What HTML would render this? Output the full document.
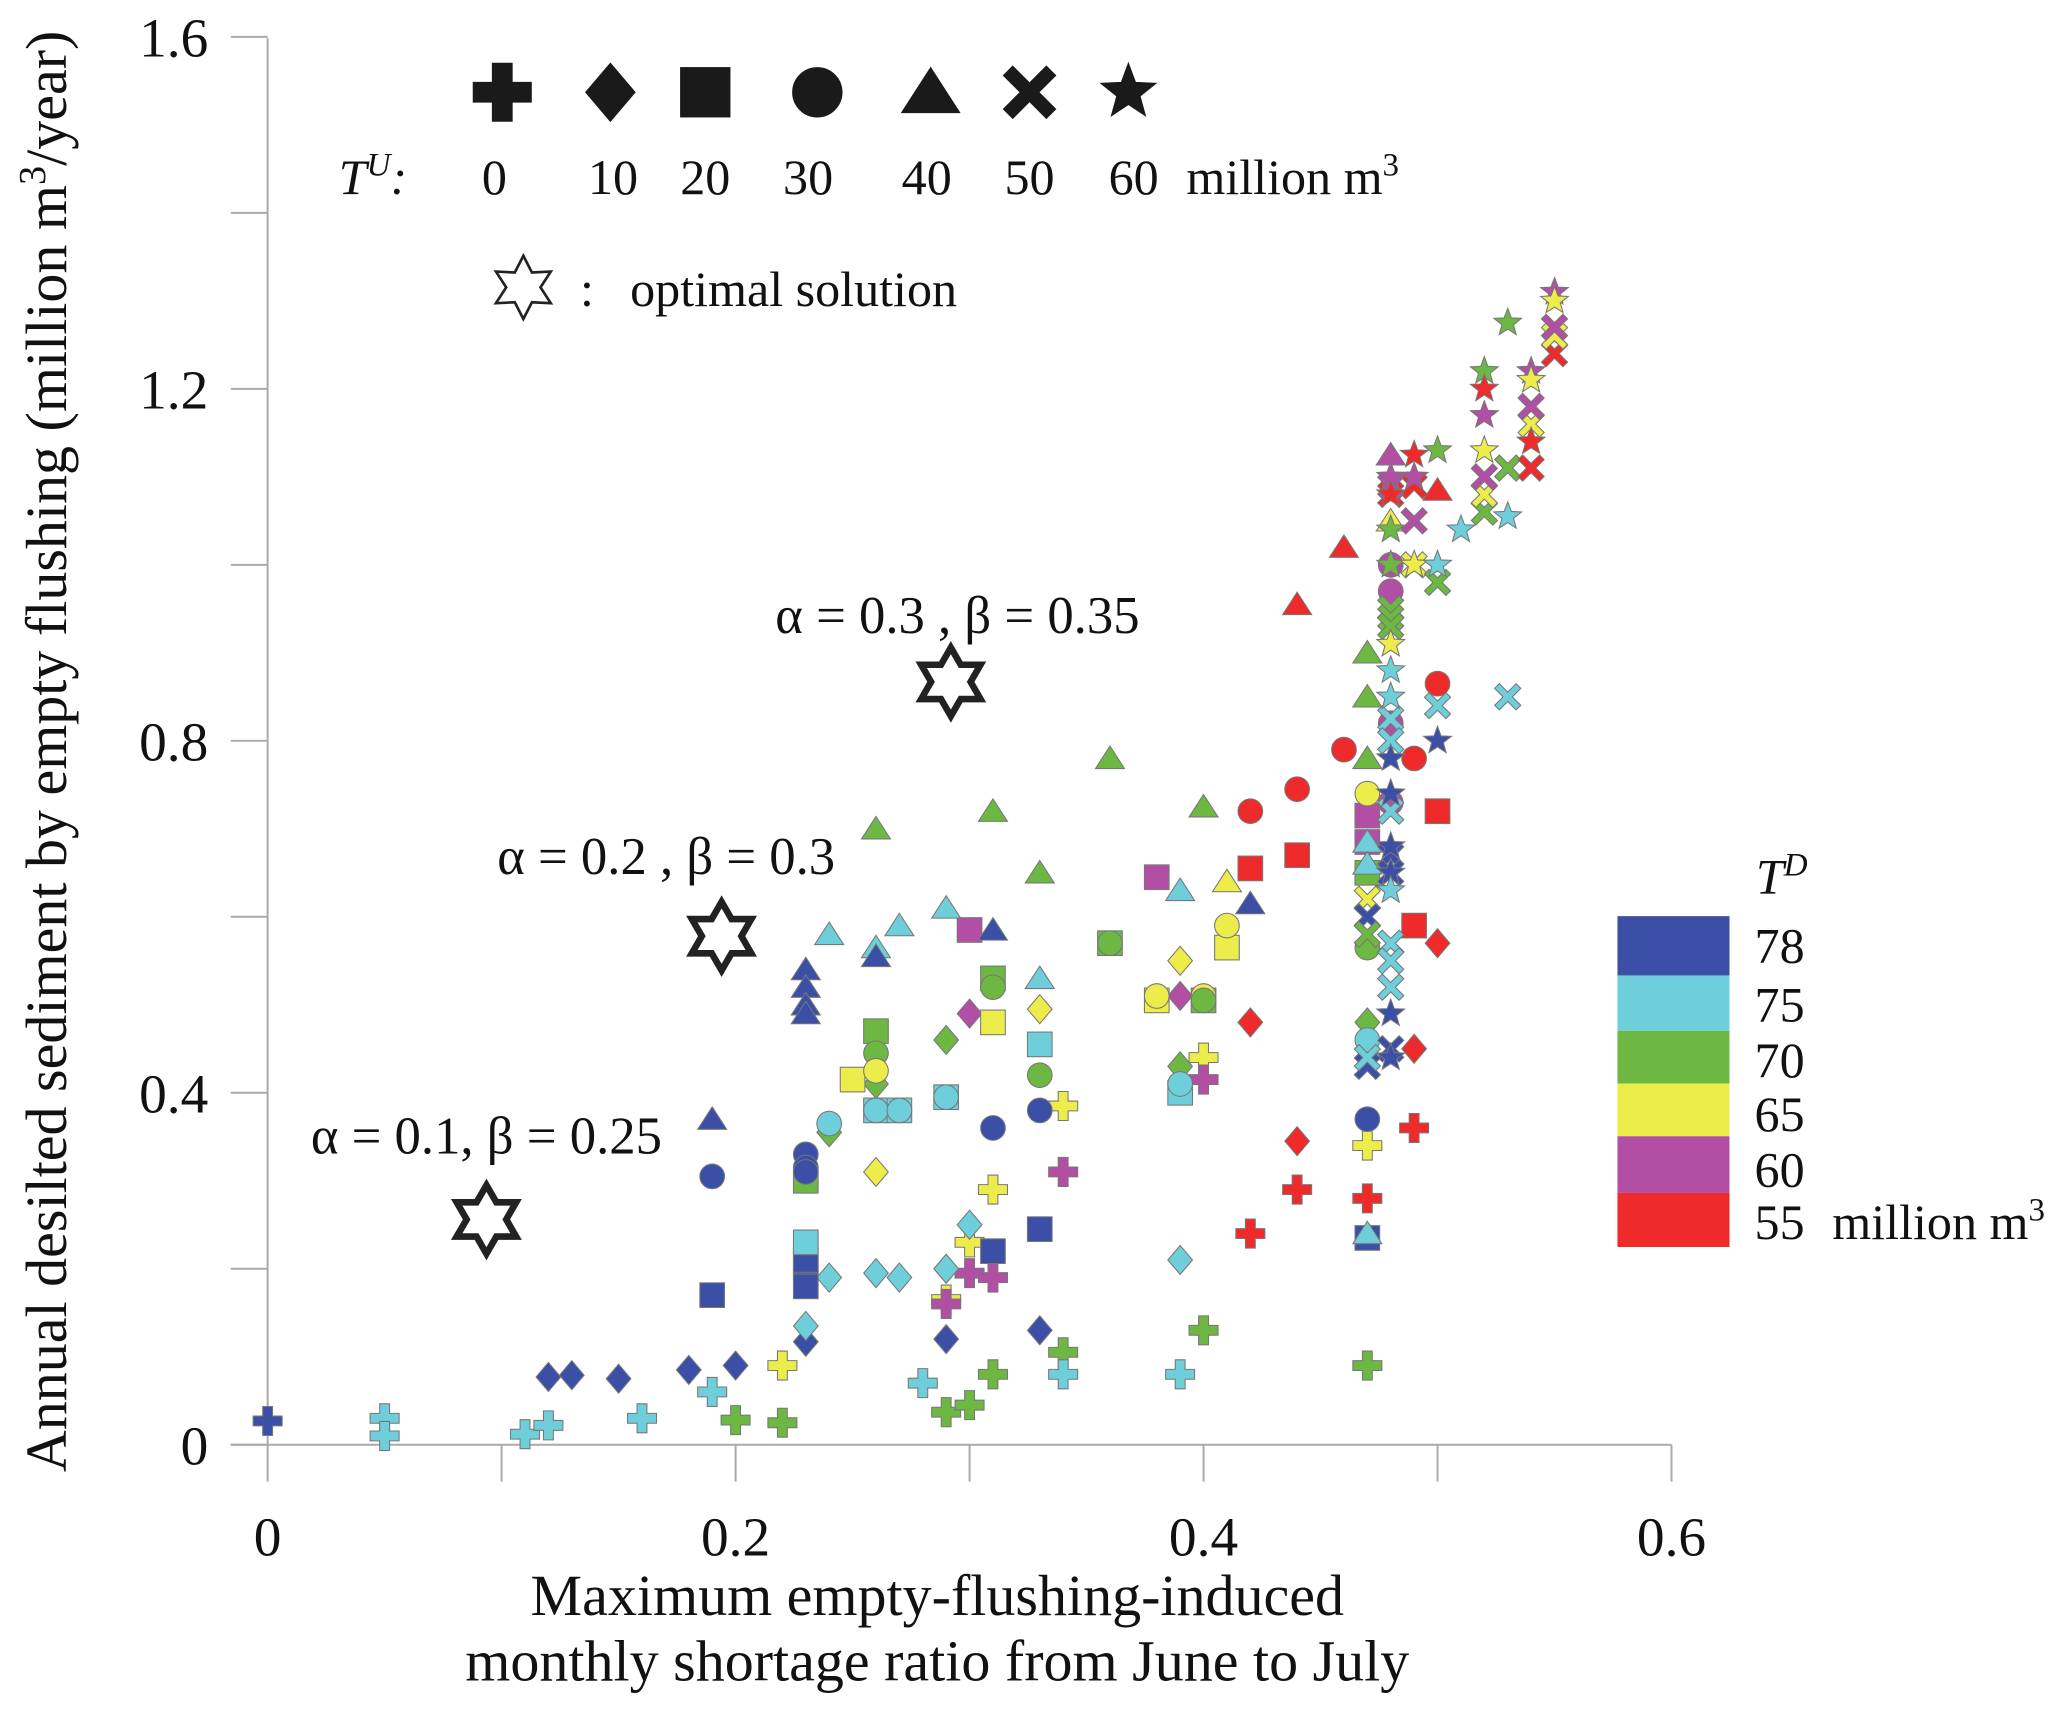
<!DOCTYPE html>
<html><head><meta charset="utf-8"><style>
html,body{margin:0;padding:0;background:#fff;}
svg{display:block;}
text{font-family:"Liberation Serif",serif;fill:#111;}
</style></head><body>
<svg id="chart" width="2067" height="1711" viewBox="0 0 1568 1298" xmlns="http://www.w3.org/2000/svg">
<g id="axes"></g>
<g id="marks"></g>
<g id="opt"></g>
<g id="shapeLegend">
 <text x="257" y="147" font-size="38" font-style="italic">T<tspan dy="-14" font-size="25">U</tspan><tspan dy="14">:</tspan></text>
 <text x="900" y="147" font-size="38">million m<tspan dy="-14" font-size="25">3</tspan></text>
 <text x="440" y="232" font-size="38">:</text>
 <text x="478" y="232" font-size="38">optimal solution</text>
</g>
<g id="colorLegend">
 <text x="1332" y="678" font-size="38" font-style="italic">T<tspan dy="-14" font-size="25">D</tspan></text>
</g>
<text transform="translate(50,570) rotate(-90)" text-anchor="middle" font-size="44">Annual desilted sediment by empty flushing (million m<tspan dy="-16" font-size="29">3</tspan><tspan dy="16">/year)</tspan></text>
<text x="711" y="1225" text-anchor="middle" font-size="44">Maximum empty-flushing-induced</text>
<text x="711" y="1275" text-anchor="middle" font-size="44">monthly shortage ratio from June to July</text>
</svg>
<script>
const xTicks=[0,0.2,0.4,0.6];
const xTickLabels=["0","0.2","0.4","0.6"];
const yTicks=[0,0.4,0.8,1.2,1.6];
const yTickLabels=["0","0.4","0.8","1.2","1.6"];
const tuValues=[0,10,20,30,40,50,60];
const tdValues=[78,75,70,65,60,55];
const tdColors=["#3a4fa5","#6ecfdb","#6db843","#ecec4a","#b24fa4","#ee2a2a"];
// points: x, y, TU (shape), TD (colour)
const ptX=[0,0.05,0.05,0.11,0.12,0.16,0.19,0.2,0.22,0.22,0.28,0.29,0.3,0.31,0.29,0.29,0.3,0.3,0.31,0.31,0.34,0.34,0.34,0.34,0.39,0.4,0.4,0.4,0.42,0.44,0.47,0.47,0.47,0.49,
0.12,0.13,0.15,0.18,0.2,0.23,0.23,0.24,0.26,0.27,0.29,0.29,0.3,0.33,0.39,0.26,0.24,0.26,0.29,0.3,0.33,0.39,0.39,0.39,0.42,0.44,0.47,0.49,0.5,
0.19,0.23,0.23,0.23,0.23,0.23,0.25,0.26,0.26,0.27,0.29,0.3,0.31,0.31,0.31,0.33,0.33,0.36,0.38,0.38,0.39,0.4,0.41,0.42,0.44,0.47,0.47,0.47,0.47,0.49,0.5,
0.19,0.23,0.23,0.23,0.24,0.26,0.26,0.26,0.27,0.29,0.31,0.31,0.33,0.33,0.36,0.38,0.39,0.4,0.4,0.41,0.42,0.44,0.46,0.47,0.47,0.47,0.47,0.49,0.5,0.48,0.48,0.48,0.48,
0.19,0.23,0.23,0.23,0.23,0.24,0.26,0.26,0.26,0.27,0.29,0.31,0.31,0.33,0.33,0.36,0.39,0.4,0.41,0.42,0.46,0.44,0.47,0.47,0.47,0.47,0.47,0.47,0.48,0.48,0.5,
0.48,0.48,0.48,0.48,0.48,0.48,0.48,0.48,0.48,0.48,0.48,0.48,0.47,0.47,0.47,0.47,0.47,0.49,0.49,0.49,0.5,0.5,0.53,0.52,0.52,0.52,0.53,0.54,0.54,0.54,0.55,0.55,0.55,0.48,0.48,
0.48,0.48,0.48,0.48,0.48,0.48,0.48,0.48,0.48,0.48,0.48,0.48,0.48,0.48,0.49,0.49,0.49,0.5,0.5,0.5,0.51,0.52,0.52,0.52,0.52,0.53,0.53,0.54,0.54,0.54,0.55,0.55];
const ptY=[0.027,0.03,0.01,0.012,0.022,0.03,0.06,0.028,0.025,0.09,0.07,0.037,0.045,0.08,0.165,0.16,0.23,0.195,0.19,0.29,0.105,0.08,0.385,0.31,0.08,0.13,0.44,0.415,0.24,0.29,0.28,0.34,0.09,0.36,
0.077,0.079,0.075,0.085,0.09,0.117,0.135,0.19,0.195,0.19,0.12,0.2,0.25,0.13,0.21,0.31,0.355,0.41,0.46,0.49,0.495,0.55,0.51,0.43,0.48,0.345,0.48,0.45,0.57,
0.17,0.2,0.18,0.21,0.23,0.3,0.415,0.47,0.38,0.38,0.395,0.585,0.53,0.48,0.22,0.455,0.245,0.57,0.645,0.505,0.4,0.505,0.565,0.655,0.67,0.235,0.715,0.685,0.65,0.59,0.72,
0.305,0.33,0.315,0.31,0.365,0.445,0.425,0.38,0.38,0.395,0.52,0.36,0.42,0.38,0.57,0.51,0.41,0.51,0.505,0.59,0.72,0.745,0.79,0.74,0.565,0.46,0.37,0.78,0.865,1.0,0.97,0.82,0.73,
0.37,0.54,0.52,0.5,0.49,0.58,0.565,0.555,0.7,0.59,0.61,0.585,0.72,0.53,0.65,0.78,0.63,0.725,0.64,0.615,1.02,0.955,0.9,0.85,0.78,0.685,0.66,0.24,1.125,1.05,1.085,
0.825,0.8,0.72,0.57,0.55,0.52,0.67,0.65,0.45,0.95,0.94,0.93,0.62,0.6,0.58,0.43,0.44,1.05,1.0,1.09,0.84,0.98,0.85,1.06,1.08,1.1,1.11,1.16,1.18,1.11,1.24,1.26,1.27,1.08,1.09,
1.1,1.08,1.0,1.04,0.91,0.88,0.85,0.78,0.74,0.68,0.65,0.63,0.49,0.44,1.125,1.1,1.0,1.13,1.0,0.8,1.04,1.22,1.2,1.17,1.13,1.275,1.055,1.22,1.21,1.14,1.31,1.3];
const ptTU=[0,0,0,0,0,0,0,0,0,0,0,0,0,0,0,0,0,0,0,0,0,0,0,0,0,0,0,0,0,0,0,0,0,0,
10,10,10,10,10,10,10,10,10,10,10,10,10,10,10,10,10,10,10,10,10,10,10,10,10,10,10,10,10,
20,20,20,20,20,20,20,20,20,20,20,20,20,20,20,20,20,20,20,20,20,20,20,20,20,20,20,20,20,20,20,
30,30,30,30,30,30,30,30,30,30,30,30,30,30,30,30,30,30,30,30,30,30,30,30,30,30,30,30,30,30,30,30,30,
40,40,40,40,40,40,40,40,40,40,40,40,40,40,40,40,40,40,40,40,40,40,40,40,40,40,40,40,40,40,40,
50,50,50,50,50,50,50,50,50,50,50,50,50,50,50,50,50,50,50,50,50,50,50,50,50,50,50,50,50,50,50,50,50,50,50,
60,60,60,60,60,60,60,60,60,60,60,60,60,60,60,60,60,60,60,60,60,60,60,60,60,60,60,60,60,60,60,60];
const ptTD=[78,75,75,75,75,75,75,70,70,65,75,70,70,70,65,60,65,60,60,65,70,75,65,60,75,70,65,60,55,55,55,65,70,55,
78,78,78,78,78,78,75,75,75,75,78,75,75,78,75,65,70,70,70,60,65,65,60,70,55,55,70,55,55,
78,78,78,78,75,70,65,70,75,75,75,60,70,65,78,75,78,70,60,65,75,70,65,55,55,78,60,60,70,55,55,
78,78,78,78,75,70,65,75,75,75,70,78,70,78,70,65,75,65,70,65,55,55,55,65,70,75,78,55,55,60,60,60,60,
78,78,78,78,78,75,75,78,70,75,75,78,70,75,70,70,75,70,65,78,55,55,70,70,70,75,75,75,60,65,55,
75,75,75,75,75,75,78,78,78,70,70,70,65,78,70,78,75,60,65,55,75,70,75,70,65,60,70,65,60,55,55,65,60,55,60,
60,55,70,70,65,75,75,78,78,78,78,75,78,78,55,60,65,70,75,78,75,70,55,60,65,70,75,60,65,55,60,65];
const optX=[0.0935,0.194,0.292];
const optY=[0.256,0.578,0.867];
const optLabels=["α = 0.1, β = 0.25","α = 0.2 , β = 0.3","α = 0.3 , β = 0.35"];
const optLabelDx=[0,-42,5];
const optLabelDy=[-50,-47,-37];

const NS="http://www.w3.org/2000/svg";
const X0=203,XS=1775,Y0=1096,YS=667.5;
function sx(v){return X0+v*XS;}
function sy(v){return Y0-v*YS;}
function mk(tag,attrs,parent){const e=document.createElementNS(NS,tag);for(const k in attrs)e.setAttribute(k,attrs[k]);parent.appendChild(e);return e;}
function starPts(cx,cy,R,r,n){let p=[];for(let i=0;i<2*n;i++){const a=-Math.PI/2+i*Math.PI/n;const rr=i%2?r:R;p.push((cx+rr*Math.cos(a)).toFixed(1)+","+(cy+rr*Math.sin(a)).toFixed(1));}return p.join(" ");}
function shape(tu,cx,cy,s,fill,stroke,parent){
  let e;const h=s/2;
  if(tu===0){const t=s*0.17;e=mk('path',{d:`M${cx-t},${cy-h}h${2*t}v${h-t}h${h-t}v${2*t}h${-(h-t)}v${h-t}h${-2*t}v${-(h-t)}h${-(h-t)}v${-2*t}h${h-t}z`},parent);}
  else if(tu===10){e=mk('polygon',{points:`${cx},${cy-h} ${cx+h*0.85},${cy} ${cx},${cy+h} ${cx-h*0.85},${cy}`},parent);}
  else if(tu===20){e=mk('rect',{x:cx-h*0.85,y:cy-h*0.85,width:s*0.85,height:s*0.85},parent);}
  else if(tu===30){e=mk('circle',{cx:cx,cy:cy,r:h*0.85},parent);}
  else if(tu===40){e=mk('polygon',{points:`${cx},${cy-h*0.85} ${cx+h},${cy+h*0.7} ${cx-h},${cy+h*0.7}`},parent);}
  else if(tu===50){const t=s*0.16,a=h*0.9;e=mk('path',{d:`M${cx-a},${cy-a+t}L${cx-a+t},${cy-a}L${cx},${cy-t}L${cx+a-t},${cy-a}L${cx+a},${cy-a+t}L${cx+t},${cy}L${cx+a},${cy+a-t}L${cx+a-t},${cy+a}L${cx},${cy+t}L${cx-a+t},${cy+a}L${cx-a},${cy+a-t}L${cx-t},${cy}z`},parent);}
  else {e=mk('polygon',{points:starPts(cx,cy,h,h*0.42,5)},parent);}
  e.setAttribute('fill',fill);e.setAttribute('stroke',stroke);e.setAttribute('stroke-width','0.8');
  return e;
}
const axes=document.getElementById('axes');
let l=mk('line',{x1:X0,y1:29,x2:X0,y2:Y0,stroke:'#aaa','stroke-width':1.5},axes);


l=mk('line',{x1:175,y1:Y0,x2:sx(0.6),y2:Y0,stroke:'#aaa','stroke-width':1.5},axes);


for(let v=0;v<=6;v++){const t=mk('line',{x1:sx(v/10),y1:Y0,x2:sx(v/10),y2:Y0+28,stroke:'#aaa','stroke-width':1.5},axes);

}
for(let v=0;v<=8;v++){const t=mk('line',{x1:X0-28,y1:sy(v/5),x2:X0,y2:sy(v/5),stroke:'#aaa','stroke-width':1.5},axes);

}
xTicks.forEach((v,i)=>{const t=mk('text',{x:sx(v),y:1180,'text-anchor':'middle','font-size':42},axes);t.textContent=xTickLabels[i];

});
yTicks.forEach((v,i)=>{const t=mk('text',{x:158,y:sy(v)+15,'text-anchor':'end','font-size':42},axes);t.textContent=yTickLabels[i];

});
const marks=document.getElementById('marks');
for(let i=0;i<ptX.length;i++){
  const c=tdColors[tdValues.indexOf(ptTD[i])];
  const e=shape(ptTU[i],sx(ptX[i]),sy(ptY[i]),22,c,'#777',marks);
  
  
}
const opt=document.getElementById('opt');
for(let i=0;i<optX.length;i++){
  const e=mk('polygon',{points:starPts(sx(optX[i]),sy(optY[i]),26,15,6),fill:'none',stroke:'#222','stroke-width':5,'stroke-linejoin':'miter'},opt);
  
  
  const t=mk('text',{x:sx(optX[i])+optLabelDx[i],y:sy(optY[i])+optLabelDy[i],'text-anchor':'middle','font-size':40},opt);
  t.textContent=optLabels[i];
  
  
}
const sl=document.getElementById('shapeLegend');
const slX=[381,463,535,620,706,781,856];
const slLX=[375,465,535,613,703,781,860];
tuValues.forEach((tu,i)=>{
  const e=shape(tu,slX[i],70,44,'#1a1a1a','#1a1a1a',sl);
  
  
  const t=mk('text',{x:slLX[i],y:147,'text-anchor':'middle','font-size':38},sl);t.textContent=String(tu);
  
  
});
const os=mk('polygon',{points:starPts(397,218,24,13,6),fill:'none',stroke:'#222','stroke-width':2},sl);


const cl=document.getElementById('colorLegend');
const bandTop=[695,740,782,822,862,905,946];
const lblY=[730,775,817,858,900,940];
tdValues.forEach((td,i)=>{
  const r=mk('rect',{x:1227,y:bandTop[i],width:85,height:bandTop[i+1]-bandTop[i],fill:tdColors[i]},cl);
  
  
  const t=mk('text',{x:1331,y:lblY[i],'font-size':38},cl);t.textContent=String(td);
  
  
});
const u=mk('text',{x:1390,y:940,'font-size':38},cl);u.innerHTML='million m<tspan dy="-14" font-size="25">3</tspan>';


</script>
</body></html>
